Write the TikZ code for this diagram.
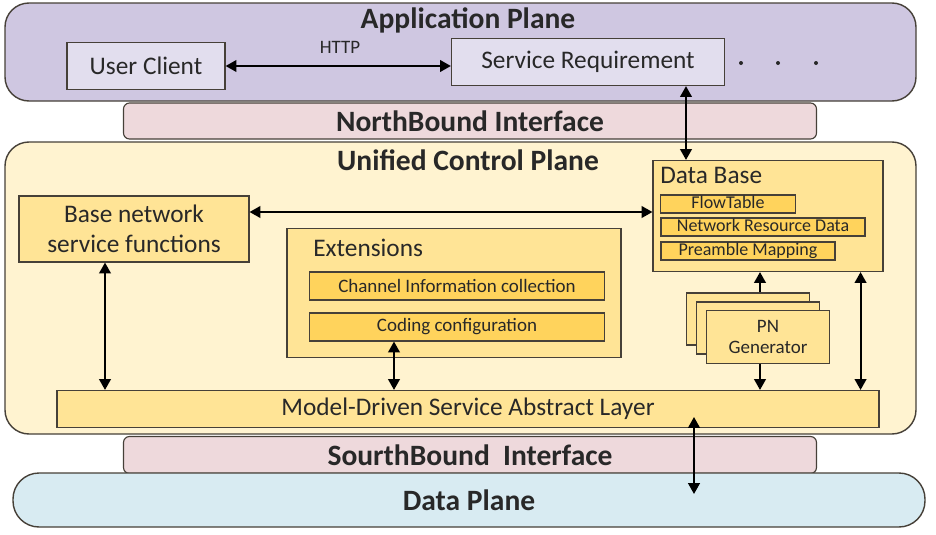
\documentclass[tikz,border=0pt]{standalone}
\usepackage{fontspec}
\setmainfont{Carlito}
\usepackage{tikz}
\usetikzlibrary{arrows.meta}
\usetikzlibrary{positioning}
\definecolor{appfill}{RGB}{207,199,225}
\definecolor{appboxfill}{RGB}{226,222,238}
\definecolor{ifacefill}{RGB}{238,217,220}
\definecolor{ucpfill}{RGB}{255,243,208}
\definecolor{blockfill}{RGB}{255,228,150}
\definecolor{itemfill}{RGB}{255,211,92}
\definecolor{dpfill}{RGB}{216,235,242}
\definecolor{edge}{RGB}{70,64,56}
\definecolor{txt}{RGB}{40,40,40}
\newcommand{\planefont}{\fontsize{21}{25}\selectfont\bfseries}
\newcommand{\boxfont}{\fontsize{18}{21}\selectfont}
\newcommand{\smallboxfont}{\fontsize{13.5}{15}\selectfont}
\tikzset{
    wh/.style 2 args = {minimum width=#1*0.025cm,minimum height=#2*0.025cm},
    plane/.style = {draw=edge,line width=1pt,rounded corners=0.6cm,inner sep=0,text=txt,font=\planefont},
    iface/.style = {draw=edge,line width=0.8pt,fill=ifacefill,rounded corners=0.15cm,inner sep=0,text=txt,font=\planefont},
    title/.style = {inner sep=0,text=txt,font=\planefont},
    appbox/.style = {draw=edge,line width=0.9pt,fill=appboxfill,inner sep=0,text=txt,font=\boxfont},
    block/.style = {draw=edge,line width=0.8pt,fill=blockfill,inner sep=0,text=txt,font=\boxfont},
    blocklabel/.style = {inner sep=0,anchor=west,text=txt,font=\boxfont},
    item/.style = {draw=edge,line width=0.8pt,fill=itemfill,inner sep=0,text=txt,font=\smallboxfont},
    dbitem/.style = {item,font=\fontsize{12.8}{15}\selectfont,text height=9.6pt,text depth=3.2pt},
    dot/.style = {circle,fill=txt,inner sep=0,minimum size=0.1cm},
    biarrow/.style = {line width=1.4pt,{Triangle[length=2.7mm,width=2.9mm]}-{Triangle[length=2.7mm,width=2.9mm]}},
    toarrow/.style = {line width=1.4pt,-{Triangle[length=2.7mm,width=2.9mm]}}
}
\begin{document}
\begin{tikzpicture}[x=0.025cm,y=-0.025cm]
        \useasboundingbox (0,0) rectangle (936,534);
        % Application plane
        \node[plane,fill=appfill,wh={911}{98}] (app) at (460.5,52) {};
        \node[title] (apptitle) at (468,20) {Application Plane};
        \node[appbox,wh={158}{47}] (uc) at (146,66) {User Client};
        \node[appbox,wh={273}{47}] (sr) at (588,62) {Service Requirement};
        \node[inner sep=0,text=txt,font=\smallboxfont] (http) at (340,47) {HTTP};
        \foreach \x/\n in {741/d1,778/d2,816/d3}
            \node[dot] (\n) at (\x,63) {};
        % Interfaces
        \node[iface,wh={693}{36}] (nb) at (470,121) {NorthBound Interface};
        % Unified control plane
        \node[plane,fill=ucpfill,wh={911}{292}] (ucp) at (460.5,288) {};
        \node[title] (ucptitle) at (468,160) {Unified Control Plane};
        \node[block,wh={230}{66},align=center] (base) at (134,229) {Base network\\service functions};
        \node[block,wh={334}{129}] (ext) at (454,293) {};
        \node[blocklabel] (exttitle) at (313,248) {Extensions};
        \node[item,wh={295}{28}] (chan) at (457,286) {Channel Information collection};
        \node[item,wh={295}{28}] (coding) at (457,327) {Coding configuration};
        \node[block,wh={230}{111}] (db) at (768,216) {};
        \node[blocklabel] (dbtitle) at (660,175) {Data Base};
        \node[dbitem,wh={135}{18}] (flow) at (728,204) {FlowTable};
        \node[dbitem,wh={204}{18}] (nrd) at (763,227) {Network Resource Data};
        \node[dbitem,wh={174}{18}] (pre) at (748,251) {Preamble Mapping};
        \node[block,wh={123}{52}] (pn3) at (748,319) {};
        \node[block,wh={123}{52}] (pn2) at (758,328) {};
        \node[block,wh={123}{53},align=center,font=\smallboxfont] (pn) at (768,337) {PN\\Generator};
        \node[block,wh={822}{37}] (mdsal) at (468,409) {Model-Driven Service Abstract Layer};
        % Southbound and data plane
        \node[iface,wh={693}{37}] (sb) at (470,455) {SourthBound\ \ Interface};
        \node[plane,fill=dpfill,rounded corners=0.65cm,wh={912}{54}] (dp) at (469,500) {Data Plane};
        % Links
        \draw[biarrow] (uc.east) -- (uc.east -| sr.west);
        \draw[biarrow] ([xshift=98*0.025cm]sr.south) -- ([xshift=98*0.025cm]sr.south |- db.north);
        \draw[biarrow] ([yshift=17*0.025cm]base.east) -- ([yshift=17*0.025cm]base.east -| db.west);
        \draw[biarrow] ([xshift=-29*0.025cm]base.south) -- ([xshift=-29*0.025cm]base.south |- mdsal.north);
        \draw[biarrow] ([xshift=-63*0.025cm]coding.south) -- ([xshift=-63*0.025cm]coding.south |- mdsal.north);
        \draw[toarrow] ([xshift=12*0.025cm]pn3.north) -- ([xshift=12*0.025cm]pn3.north |- db.south);
        \draw[toarrow] ([xshift=-8*0.025cm]pn.south) -- ([xshift=-8*0.025cm]pn.south |- mdsal.north);
        \draw[biarrow] ([xshift=-23*0.025cm]db.south east) -- ([xshift=-23*0.025cm]db.south east |- mdsal.north);
        \coordinate (sbtop) at (694,417);
        \coordinate (sbbot) at (694,494);
        \draw[biarrow] (sbtop) -- (sbbot);
\end{tikzpicture}
\end{document}
